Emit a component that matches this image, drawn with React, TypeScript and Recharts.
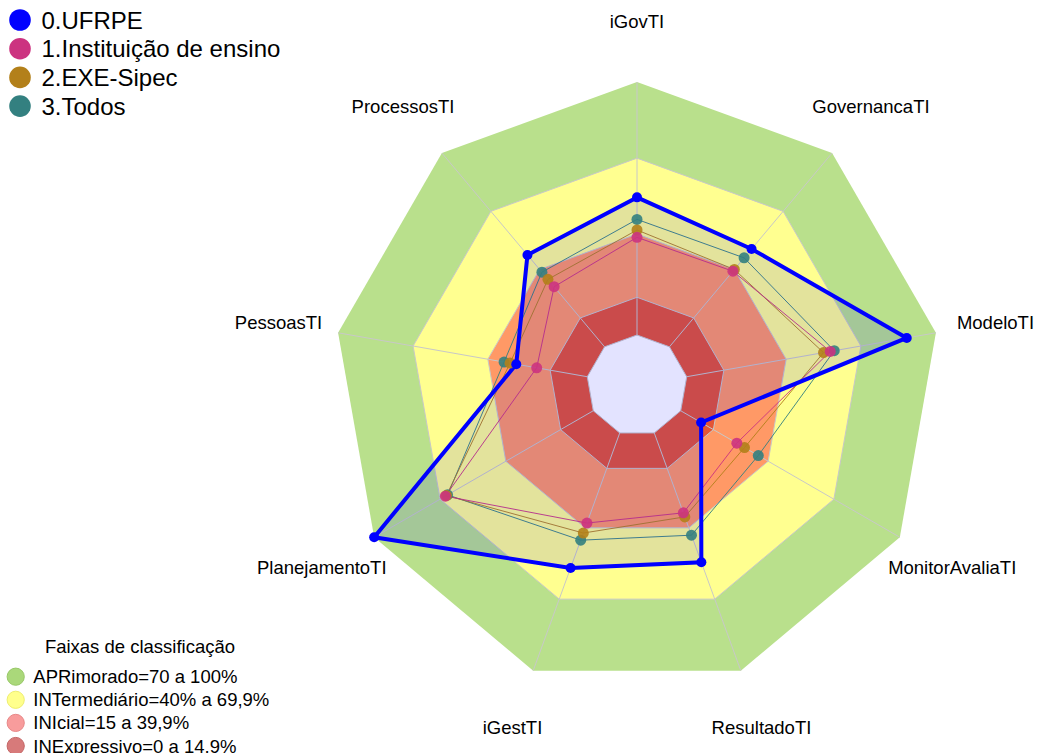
import { PolarAngleAxis, PolarGrid, PolarRadiusAxis, Radar, RadarChart } from "recharts";

const W = 1037;
const H = 753;
const CX = 637;
const CY = 385.5;
const OUTER = 303.5;
const INNER = 50.5;
const LABEL_R = 364;
const FONT = "'Liberation Sans', Arial, sans-serif";

const axes = [
  "iGovTI",
  "GovernancaTI",
  "ModeloTI",
  "MonitorAvaliaTI",
  "ResultadoTI",
  "iGestTI",
  "PlanejamentoTI",
  "PessoasTI",
  "ProcessosTI",
];

const ufrpe = [54.4, 50.5, 88.3, 9.3, 54.4, 56.8, 100, 28.5, 47.4];
const instituicao = [38.6, 39.0, 57.6, 25.6, 33.6, 37.9, 67.5, 20.3, 31.0];
const exeSipec = [41.5, 39.9, 54.9, 29.1, 35.3, 42.1, 67.0, 31.0, 34.8];
const todos = [45.7, 45.9, 59.2, 35.4, 43.0, 45.1, 66.5, 33.4, 38.5];

// upper limit of each classification band (%), outermost first
const bandNames = ["apr", "int", "ini", "ine", "hole"];
const bandTops = [100, 69.9, 39.9, 14.9, 0];
const bandFills = ["#b9e08c", "#ffff90", "#ff9966", "#e35535", "#ffffff"];
const gridTicks = [0, 14.9, 39.9, 69.9];

const seriesNames = ["0.UFRPE", "1.Instituição de ensino", "2.EXE-Sipec", "3.Todos"];
const seriesColors = ["#0000ff", "#cc3380", "#b3801a", "#338080"];
const seriesValues = [ufrpe, instituicao, exeSipec, todos];

const bandLegend = [
  "APRimorado=70 a 100%",
  "INTermediário=40% a 69,9%",
  "INIcial=15 a 39,9%",
  "INExpressivo=0 a 14,9%",
];
const bandLegendColors = ["#aad87a", "#ffff8c", "#f89c9c", "#d77a7a"];
const bandLegendStroke = ["#98c868", "#eeee70", "#e88888", "#c46666"];

const data = axes.map((axis, i) => {
  const row: Record<string, number | string> = { axis };
  bandNames.forEach((b, j) => (row[b] = bandTops[j]));
  seriesValues.forEach((vals, j) => (row["s" + j] = vals[i]));
  return row;
});

function AxisTick(props: any) {
  const { x, y, payload } = props;
  const ang = Math.atan2(y - CY, x - CX);
  return (
    <text
      x={CX + LABEL_R * Math.cos(ang)}
      y={CY + LABEL_R * Math.sin(ang)}
      textAnchor="middle"
      dominantBaseline="central"
      fontSize={18.5}
      fontFamily={FONT}
      fill="#000"
    >
      {payload.value}
    </text>
  );
}

export default function App() {
  return (
    <div style={{ position: "absolute", left: 0, top: 0, width: W, height: H, background: "#fff" }}>
      <RadarChart
        width={W}
        height={H}
        data={data}
        cx={CX}
        cy={CY}
        outerRadius={OUTER}
        innerRadius={INNER}
        startAngle={90}
        endAngle={-270}
      >
        {bandNames.map((b, j) => (
          <Radar
            key={b}
            dataKey={b}
            stroke="none"
            fill={bandFills[j]}
            fillOpacity={1}
            dot={false}
            zIndex={-200}
            isAnimationActive={false}
            legendType="none"
          />
        ))}
        <PolarGrid gridType="polygon" stroke="#c8c8c8" strokeWidth={1} />
        <PolarRadiusAxis domain={[0, 100]} ticks={gridTicks as any} tick={false} axisLine={false} />
        <PolarAngleAxis dataKey="axis" tick={<AxisTick />} tickLine={false} axisLine={false} />
        {[3, 2, 1].map((j) => (
          <Radar
            key={j}
            name={seriesNames[j]}
            dataKey={"s" + j}
            stroke={seriesColors[j]}
            strokeOpacity={0.9}
            strokeWidth={1}
            fill="none"
            dot={{ r: 5.5, fill: seriesColors[j], fillOpacity: 0.9, stroke: "none" }}
            isAnimationActive={false}
          />
        ))}
        <Radar
          name={seriesNames[0]}
          dataKey="s0"
          stroke={seriesColors[0]}
          strokeWidth={4}
          fill={seriesColors[0]}
          fillOpacity={0.11}
          dot={{ r: 5, fill: seriesColors[0], fillOpacity: 1, stroke: "none" }}
          isAnimationActive={false}
        />
      </RadarChart>
      <svg width={W} height={H} style={{ position: "absolute", left: 0, top: 0, pointerEvents: "none" }}>
        {seriesNames.map((n, i) => (
          <g key={n}>
            <circle cx={20} cy={20 + i * 28.7} r={10.8} fill={seriesColors[i]} />
            <text x={41.5} y={20 + i * 28.7} dominantBaseline="central" fontSize={24} fontFamily={FONT} fill="#000">
              {n}
            </text>
          </g>
        ))}
        <text x={140} y={646.7} textAnchor="middle" dominantBaseline="central" fontSize={18.5} fontFamily={FONT} fill="#000">
          Faixas de classificação
        </text>
        {bandLegend.map((n, i) => (
          <g key={n}>
            <circle
              cx={15.7}
              cy={676.7 + i * 23.1}
              r={8.6}
              fill={bandLegendColors[i]}
              stroke={bandLegendStroke[i]}
              strokeWidth={1}
            />
            <text x={33.3} y={676.7 + i * 23.1} dominantBaseline="central" fontSize={18.5} fontFamily={FONT} fill="#000">
              {n}
            </text>
          </g>
        ))}
      </svg>
    </div>
  );
}
